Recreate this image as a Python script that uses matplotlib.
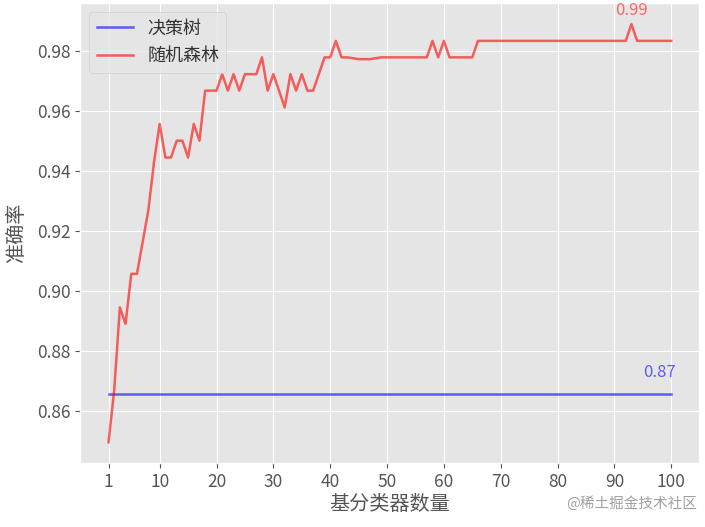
import matplotlib
matplotlib.use("Agg")
from matplotlib import pyplot as plt

# number of base estimators
n_estimators = list(range(1, 101))

# decision tree accuracy (constant)
dt_acc = 0.8656

# random forest accuracy
rf_acc = [
    0.8494, 0.8667, 0.8944, 0.8889, 0.9056, 0.9056, 0.9161, 0.9267, 0.9428, 0.9556,
    0.9444, 0.9444, 0.9500, 0.9500, 0.9444, 0.9556, 0.9500, 0.9667, 0.9667, 0.9667,
    0.9722, 0.9667, 0.9722, 0.9667, 0.9722, 0.9722, 0.9722, 0.9778, 0.9667, 0.9722,
    0.9667, 0.9611, 0.9722, 0.9667, 0.9722, 0.9667, 0.9667, 0.9722, 0.9778, 0.9778,
    0.9833, 0.9778, 0.9778, 0.9775, 0.9772, 0.9772, 0.9772, 0.9775, 0.9778, 0.9778,
    0.9778, 0.9778, 0.9778, 0.9778, 0.9778, 0.9778, 0.9778, 0.9833, 0.9778, 0.9833,
    0.9778, 0.9778, 0.9778, 0.9778, 0.9778, 0.9833, 0.9833, 0.9833, 0.9833, 0.9833,
    0.9833, 0.9833, 0.9833, 0.9833, 0.9833, 0.9833, 0.9833, 0.9833, 0.9833, 0.9833,
    0.9833, 0.9833, 0.9833, 0.9833, 0.9833, 0.9833, 0.9833, 0.9833, 0.9833, 0.9833,
    0.9833, 0.9833, 0.9889, 0.9833, 0.9833, 0.9833, 0.9833, 0.9833, 0.9833, 0.9833,
]

x_ticks = [1, 10, 20, 30, 40, 50, 60, 70, 80, 90, 100]

plt.style.use("ggplot")
plt.rcParams["font.family"] = ["Noto Sans CJK SC", "DejaVu Sans"]
plt.rcParams["axes.unicode_minus"] = False

fig = plt.figure(figsize=(7.05, 5.27), dpi=100)
ax = fig.add_axes((0.114, 0.121, 0.878, 0.873))

ax.plot(n_estimators, [dt_acc] * len(n_estimators), color="blue", alpha=0.6, lw=1.8, label="决策树")
ax.plot(n_estimators, rf_acc, color="red", alpha=0.6, lw=1.8, label="随机森林")

# annotate the best values
best = rf_acc.index(max(rf_acc))
ax.text(n_estimators[best], rf_acc[best] + 0.0018, "%.2f" % rf_acc[best],
        ha="center", va="bottom", color="red", alpha=0.55, fontsize=12)
ax.text(98, dt_acc + 0.0043, "%.2f" % dt_acc,
        ha="center", va="bottom", color="blue", alpha=0.6, fontsize=12)

ax.set_xticks(x_ticks)
ax.tick_params(axis="both", labelsize=12.5, colors="#555555")
ax.set_xlabel("基分类器数量", fontsize=14.5, color="#555555", labelpad=2)
ax.set_ylabel("准确率", fontsize=14.5, color="#555555", labelpad=7)
leg = ax.legend(loc="upper left", fontsize=13, labelspacing=0.55)
for t in leg.get_texts():
    t.set_color("#333333")

fig.text(0.988, 0.045, "@稀土掘金技术社区", ha="right", va="center",
         color="#a0a0a0", fontsize=10.5)

fig.savefig("out.png", dpi=100)
plt.close(fig)
